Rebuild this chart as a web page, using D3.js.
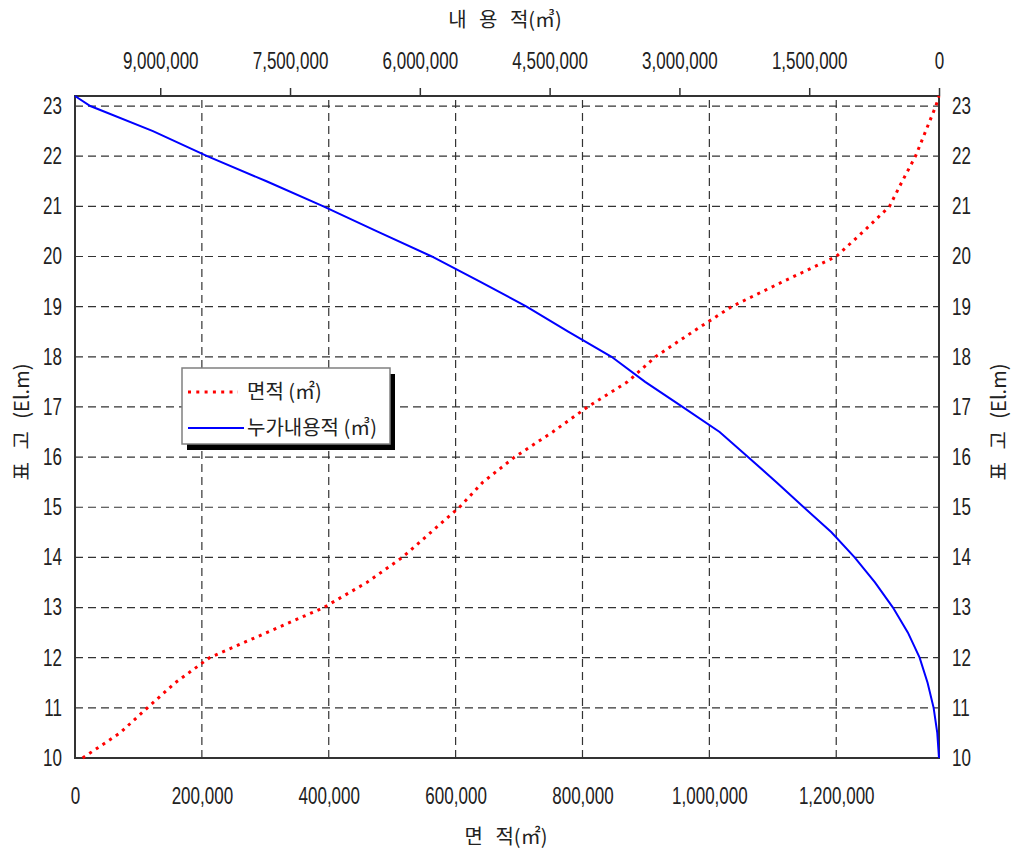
<!DOCTYPE html>
<html>
<head>
<meta charset="utf-8">
<script src="https://cdn.jsdelivr.net/npm/d3@7"></script>
<style>
  html, body { margin: 0; padding: 0; background: #fff; }
  svg { display: block; }
  .tick text { font-family: "Liberation Sans", Arial, sans-serif; font-size: 23px; fill: #222; }
  .ko { font-family: "Noto Sans CJK KR", sans-serif; fill: #222; }
</style>
</head>
<body>
<div id="chart"></div>
<script>
// elevation (El.m) samples
const elevation = [10, 10.5, 11, 11.5, 12, 12.5, 13, 13.5, 14, 14.5, 15, 15.5, 16, 16.5,
  17, 17.5, 18, 18.5, 19, 19.5, 20, 20.5, 21, 21.5, 22, 22.5, 23, 23.2];
// 면적 (m2)
const areaM2 = [12000, 71000, 114000, 158000, 212000, 302000, 392000, 460000, 516000, 561000,
  606000, 643000, 693000, 753000, 808000, 871000, 915000, 974000, 1035000, 1116000,
  1200000, 1243000, 1284000, 1304000, 1325000, 1341000, 1357000, 1362000];
// 누가내용적 (m3)
const volumeM3 = [0, 20000, 62000, 132000, 224000, 359000, 532000, 740000, 975000, 1243000,
  1563000, 1879000, 2207000, 2535000, 2964000, 3396000, 3784000, 4285000, 4766000, 5305000,
  5862000, 6494000, 7114000, 7772000, 8457000, 9084000, 9808000, 9985000];

const areaTicks = [0, 200000, 400000, 600000, 800000, 1000000, 1200000];
const volumeTicks = [0, 1500000, 3000000, 4500000, 6000000, 7500000, 9000000];
const elevationTicks = [10, 11, 12, 13, 14, 15, 16, 17, 18, 19, 20, 21, 22, 23];

const width = 1028, height = 854;
const plot = { left: 75, right: 939, top: 96, bottom: 758 };
const squeeze = 0.74; // tick labels use a condensed face in the original

const svg = d3.select('#chart').append('svg')
  .attr('width', width)
  .attr('height', height);

const x = d3.scaleLinear().domain([0, d3.max(areaM2)]).range([plot.left, plot.right]);
const xv = d3.scaleLinear().domain([d3.max(volumeM3), 0]).range([plot.left, plot.right]);
const y = d3.scaleLinear().domain([10, 23.2]).range([plot.bottom, plot.top]);

// grid
const grid = svg.append('g').attr('stroke', '#333').attr('stroke-width', 1.2).attr('stroke-dasharray', '8,5');
grid.selectAll('line.h').data(elevationTicks.filter(d => d > 10)).enter().append('line')
  .attr('x1', plot.left).attr('x2', plot.right)
  .attr('y1', d => y(d)).attr('y2', d => y(d));
grid.selectAll('line.v').data(areaTicks.filter(d => d > 0)).enter().append('line')
  .attr('y1', plot.bottom).attr('y2', plot.top)
  .attr('x1', d => x(d)).attr('x2', d => x(d));

// axes
const fmt = d3.format(',');
const gb = svg.append('g').attr('transform', `translate(0,${plot.bottom})`)
  .call(d3.axisBottom(x).tickValues(areaTicks).tickFormat(fmt).tickSize(0).tickPadding(30));
const gt = svg.append('g').attr('transform', `translate(0,${plot.top})`)
  .call(d3.axisTop(xv).tickValues(volumeTicks).tickFormat(fmt).tickSize(8).tickPadding(19));
const gl = svg.append('g').attr('transform', `translate(${plot.left},0)`)
  .call(d3.axisLeft(y).tickValues(elevationTicks).tickSize(0).tickPadding(13));
const gr = svg.append('g').attr('transform', `translate(${plot.right},0)`)
  .call(d3.axisRight(y).tickValues(elevationTicks).tickSize(0).tickPadding(13));
[gb, gt, gl, gr].forEach(g => {
  g.select('.domain').remove();
  g.attr('font-family', null).attr('font-size', null);
  g.selectAll('.tick line').attr('stroke', '#333').attr('stroke-width', 1.5);
  g.selectAll('.tick text').each(function() {
    const t = d3.select(this);
    const tx = +t.attr('x') || 0;
    t.attr('x', tx / squeeze).attr('transform', `scale(${squeeze},1)`);
  });
});

// frame
svg.append('rect')
  .attr('x', plot.left).attr('y', plot.top)
  .attr('width', plot.right - plot.left).attr('height', plot.bottom - plot.top)
  .attr('fill', 'none').attr('stroke', '#333').attr('stroke-width', 2);

// series
const lineArea = d3.line().x((d, i) => x(areaM2[i])).y(d => y(d));
const lineVol = d3.line().x((d, i) => xv(volumeM3[i])).y(d => y(d));

svg.append('path').datum(elevation)
  .attr('d', lineVol)
  .attr('fill', 'none').attr('stroke', '#0000ff').attr('stroke-width', 2);

svg.append('path').datum(elevation)
  .attr('d', lineArea)
  .attr('fill', 'none').attr('stroke', '#ff0000').attr('stroke-width', 3)
  .attr('stroke-dasharray', '3,5');

// titles
svg.append('text').attr('class', 'ko')
  .attr('x', 505).attr('y', 27).attr('text-anchor', 'middle')
  .attr('font-size', 20).attr('word-spacing', 8)
  .text('내 용 적(㎥)');
svg.append('text').attr('class', 'ko')
  .attr('x', 506).attr('y', 844).attr('text-anchor', 'middle')
  .attr('font-size', 20).attr('word-spacing', 8)
  .text('면 적(㎡)');
[22, 999].forEach(cx => {
  svg.append('text').attr('class', 'ko')
    .attr('transform', `translate(${cx + 7},422) rotate(-90)`)
    .attr('text-anchor', 'middle')
    .attr('font-size', 20).attr('word-spacing', 8)
    .text('표 고 (El.m)');
});

// legend
const lg = svg.append('g').attr('transform', 'translate(182,368)');
lg.append('rect').attr('x', 5).attr('y', 6).attr('width', 208).attr('height', 76).attr('fill', '#000');
lg.append('rect').attr('width', 208).attr('height', 76)
  .attr('fill', '#fff').attr('stroke', '#808080').attr('stroke-width', 1.5);
const legendItems = [
  { label: '면적 (㎡)', color: '#ff0000', dash: '3,5.3', w: 3, len: 50 },
  { label: '누가내용적 (㎥)', color: '#0000ff', dash: null, w: 2, len: 56 }
];
legendItems.forEach((d, i) => {
  const yy = 24 + i * 36;
  lg.append('line').attr('x1', 6).attr('x2', 6 + d.len).attr('y1', yy).attr('y2', yy)
    .attr('stroke', d.color).attr('stroke-width', d.w)
    .attr('stroke-dasharray', d.dash);
  lg.append('text').attr('class', 'ko')
    .attr('x', 65).attr('y', yy + 7).attr('font-size', 20)
    .text(d.label);
});
</script>
</body>
</html>
